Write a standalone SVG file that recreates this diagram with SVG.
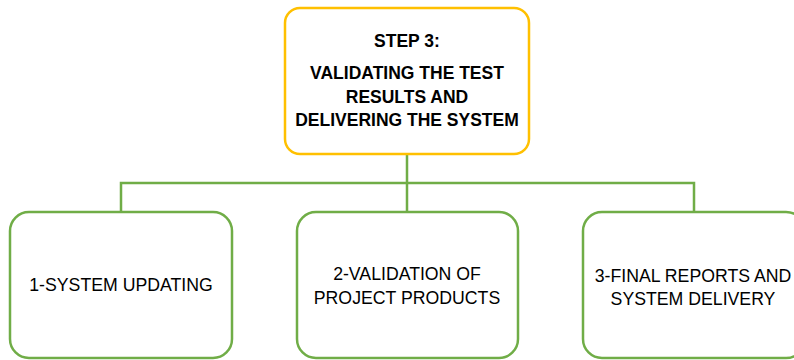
<svg xmlns="http://www.w3.org/2000/svg" width="794" height="360" viewBox="0 0 794 360">
<style>
.box{fill:#fff;stroke:#70AD47;stroke-width:2.5}
.top{fill:#fff;stroke:#FFC000;stroke-width:2.5}
.conn{fill:none;stroke:#70AD47;stroke-width:2.5}
.t{font-family:"Liberation Sans",Arial,sans-serif;font-size:17.7px;fill:#000;text-anchor:middle}
.b{font-family:"Liberation Sans",Arial,sans-serif;font-size:17.5px;font-weight:bold;fill:#000;text-anchor:middle}
</style>
<rect width="794" height="360" fill="#fff"/>
<g id="connectors">
<path class="conn" d="M407 154V183M121 212V183H694V212M407 183V212"/>
</g>
<g id="step3">
<rect class="top" x="285" y="8" width="244" height="146" rx="15"/>
<text class="b" x="407" y="47">STEP 3:</text>
<text class="b" x="407" y="79">VALIDATING THE TEST</text>
<text class="b" x="407" y="103">RESULTS AND</text>
<text class="b" x="407" y="126">DELIVERING THE SYSTEM</text>
</g>
<g id="node1">
<rect class="box" x="10" y="212" width="222" height="146" rx="19"/>
<text class="t" x="121" y="291">1-SYSTEM UPDATING</text>
</g>
<g id="node2">
<rect class="box" x="297" y="212" width="221" height="146" rx="19"/>
<text class="t" x="407" y="280">2-VALIDATION OF</text>
<text class="t" x="407" y="304">PROJECT PRODUCTS</text>
</g>
<g id="node3">
<rect class="box" x="583" y="212" width="222" height="146" rx="19"/>
<text class="t" x="693" y="282">3-FINAL REPORTS AND</text>
<text class="t" x="693" y="305">SYSTEM DELIVERY</text>
</g>
</svg>
